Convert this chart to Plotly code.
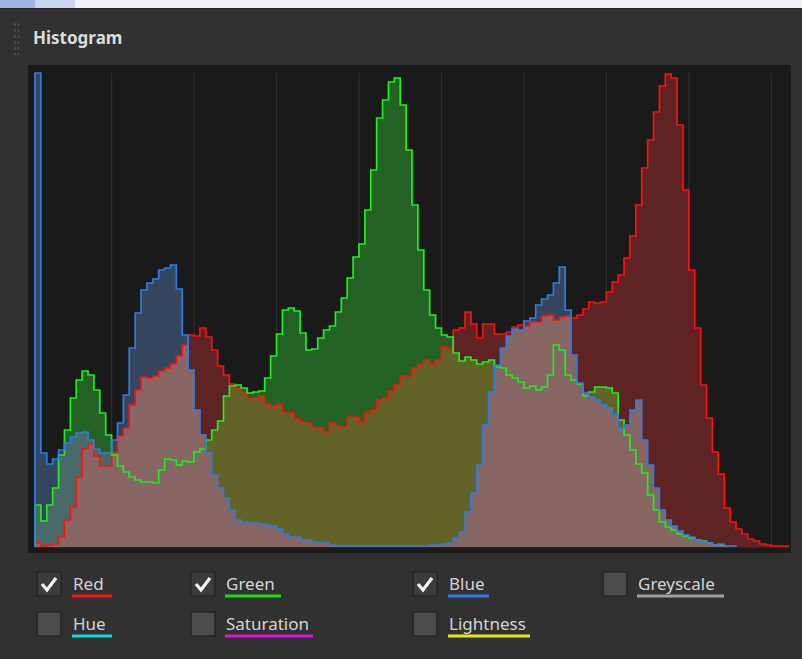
import numpy as np
import plotly.graph_objects as go

# ---- data: histogram counts per 2-level bin (128 bins, levels 0..255) ----
bins = list(range(128))

red = [4, 1, 2, 3, 10, 27, 40, 70, 98, 103, 91, 81, 81, 95, 111, 119, 142, 157, 170, 169,
       171, 176, 179, 183, 191, 202, 212, 211, 219, 210, 197, 181, 172, 163, 159, 155, 148, 149, 151, 143,
       141, 143, 135, 134, 128, 125, 124, 119, 119, 115, 124, 121, 120, 130, 130, 125, 134, 137, 147, 149,
       156, 162, 171, 170, 179, 183, 187, 183, 187, 200, 198, 217, 219, 235, 223, 209, 223, 223, 213, 213,
       215, 220, 222, 221, 225, 225, 231, 232, 227, 230, 231, 229, 232, 238, 245, 244, 245, 255, 265, 272,
       289, 311, 342, 379, 407, 435, 461, 473, 469, 422, 357, 277, 219, 162, 129, 95, 73, 39, 25, 18,
       13, 8, 6, 3, 2, 1, 1, 1]

green = [42, 26, 42, 59, 92, 117, 149, 167, 176, 172, 157, 134, 112, 92, 81, 75, 70, 67, 65, 65,
         64, 77, 88, 87, 82, 86, 85, 95, 98, 107, 117, 126, 151, 161, 162, 159, 154, 155, 156, 169,
         191, 213, 237, 239, 236, 214, 197, 198, 209, 217, 221, 235, 249, 269, 290, 303, 337, 377, 429, 447,
         465, 469, 442, 397, 342, 297, 257, 232, 219, 212, 210, 194, 186, 190, 187, 183, 185, 187, 180, 179,
         172, 169, 165, 159, 161, 157, 160, 172, 202, 197, 172, 167, 163, 151, 155, 160, 160, 159, 154, 127,
         112, 97, 83, 74, 52, 37, 25, 20, 17, 13, 11, 9, 7, 6, 4, 2, 2, 0, 0, 0,
         0, 0, 0, 0, 0, 0, 0, 0]

blue = [474, 94, 83, 88, 97, 104, 110, 114, 115, 107, 98, 94, 94, 107, 124, 152, 199, 234, 257, 264,
        268, 277, 279, 282, 258, 212, 177, 137, 112, 94, 72, 59, 49, 37, 27, 25, 24, 24, 23, 22,
        21, 18, 13, 10, 10, 7, 7, 5, 4, 4, 2, 1, 1, 1, 1, 1, 1, 1, 1, 1,
        1, 1, 1, 1, 1, 1, 1, 2, 2, 3, 4, 9, 15, 35, 54, 82, 122, 155, 182, 199,
        211, 218, 217, 226, 229, 242, 248, 252, 264, 280, 237, 192, 164, 154, 150, 147, 142, 139, 132, 119,
        122, 137, 147, 107, 82, 59, 37, 27, 21, 16, 12, 10, 7, 5, 4, 2, 3, 1, 1, 0,
        0, 0, 0, 0, 0, 0, 0, 0]

labels_row1 = ["Red", "Green", "Blue", "Greyscale"]
labels_row2 = ["Hue", "Saturation", "Lightness"]
checked_row1 = [True, True, True, False]

W, H = 802, 659
PL, PR, PT, PB = 28, 791, 65, 553        # plot area in pixels
BW = 754 / 128                            # pixel width of one bin
X0 = -0.5 - (35 - PL) / BW
X1 = X0 + (PR - PL) / BW


def px(x):
    return (x - PL) / (PR - PL)


def py(y):
    return (PB - y) / (PB - PT)


R = np.array(red, float)
G = np.array(green, float)
B = np.array(blue, float)
edges = np.arange(129) - 0.5

fig = go.Figure()


def fill(v, color):
    yy = np.append(v, v[-1])
    fig.add_trace(go.Scatter(x=edges, y=yy, mode="lines", fill="tozeroy",
                             fillcolor=color, line=dict(width=0, shape="hv", color=color),
                             hoverinfo="skip", showlegend=False))


fill(R, "#5f2323")
fill(G, "#236125")
fill(B, "#34465e")
fill(np.minimum(R, G), "#646327")
fill(np.minimum(G, B), "#4a6a69")
fill(np.minimum(R, B), "#876664")
fill(np.minimum(np.minimum(R, G), B), "#876664")


def outline(v, color):
    nz = np.nonzero(v)[0]
    last = nz[-1]
    xs = [-0.5] + list(edges[:last + 1]) + [edges[last + 1]]
    ys = [0] + list(v[:last + 1]) + [0 if last < 127 else v[-1]]
    fig.add_trace(go.Scatter(x=xs, y=ys, mode="lines",
                             line=dict(width=1.7, shape="hv", color=color),
                             hoverinfo="skip", showlegend=False))


outline(R, "#ff1010")
outline(G, "#1ef01e")
outline(B, "#2f7de2")

shapes = []
# vertical grid lines every 14 bins
for k in range(9):
    gx = 12.5 + 14 * k
    shapes.append(dict(type="line", xref="x", yref="y", x0=gx, x1=gx, y0=0, y1=474,
                       line=dict(color="#2e2e2e", width=1.3), layer="below"))
# baseline strip
shapes.append(dict(type="line", xref="paper", yref="y", x0=px(35), x1=px(790), y0=-0.6, y1=-0.6,
                   line=dict(color="#2a2a2a", width=1), layer="above"))
# window strip at the very top
shapes.append(dict(type="rect", xref="paper", yref="paper", x0=px(0), x1=px(W), y0=py(8), y1=py(0),
                   fillcolor="#eef2f8", line=dict(width=0), layer="below"))
shapes.append(dict(type="rect", xref="paper", yref="paper", x0=px(0), x1=px(35), y0=py(8), y1=py(0),
                   fillcolor="#9fb6e0", line=dict(width=0), layer="below"))
shapes.append(dict(type="rect", xref="paper", yref="paper", x0=px(35), x1=px(75), y0=py(8), y1=py(0),
                   fillcolor="#c9d6ee", line=dict(width=0), layer="below"))
shapes.append(dict(type="line", xref="paper", yref="paper", x0=px(0), x1=px(W), y0=py(8.5), y1=py(8.5),
                   line=dict(color="#262626", width=1)))
# grip dots
for gx in (15, 18.5):
    shapes.append(dict(type="line", xref="paper", yref="paper", x0=px(gx), x1=px(gx),
                       y0=py(23), y1=py(55), line=dict(color="#505050", width=1.5, dash="dot")))

annotations = [dict(text="<b>Histogram</b>", xref="paper", yref="paper", x=px(31), y=py(37),
                    xanchor="left", yanchor="middle", showarrow=False,
                    font=dict(family="Noto Sans", size=17, color="#dcdcdc"))]

col_box = [37, 191, 413, 603]
col_txt = [71, 224, 447, 636]
row_box = [(572, 596), (612, 636)]
row_txt = [583, 623]
ul_end1 = [112, 281, 489, 724]
ul_end2 = [112, 313, 530]
ul_col1 = ["#ff1010", "#12e012", "#2f7de2", "#a0a0a0"]
ul_col2 = ["#10d8dc", "#e010e0", "#e8e810"]


def checkbox(x0, ys, checked):
    y0, y1 = ys
    shapes.append(dict(type="rect", xref="paper", yref="paper", x0=px(x0), x1=px(x0 + 24),
                       y0=py(y1), y1=py(y0), fillcolor="#3c3c3c" if checked else "#4c4c4c",
                       line=dict(color="#242424", width=1.5)))
    if checked:
        pts = [(x0 + 5, y0 + 12), (x0 + 10, y0 + 18), (x0 + 19, y0 + 6)]
        path = "M {} {} L {} {} L {} {}".format(px(pts[0][0]), py(pts[0][1]), px(pts[1][0]),
                                                 py(pts[1][1]), px(pts[2][0]), py(pts[2][1]))
        shapes.append(dict(type="path", xref="paper", yref="paper", path=path,
                           line=dict(color="#f4f4f4", width=3.2)))


def label(text, x, y):
    annotations.append(dict(text=text, xref="paper", yref="paper", x=px(x), y=py(y),
                            xanchor="left", yanchor="middle", showarrow=False,
                            font=dict(family="Noto Sans", size=17, color="#d4d4d4")))


for i, lab in enumerate(labels_row1):
    checkbox(col_box[i], row_box[0], checked_row1[i])
    label(lab, col_txt[i], row_txt[0])
    shapes.append(dict(type="line", xref="paper", yref="paper", x0=px(col_txt[i] + 1), x1=px(ul_end1[i]),
                       y0=py(596), y1=py(596), line=dict(color=ul_col1[i], width=3)))
for i, lab in enumerate(labels_row2):
    checkbox(col_box[i], row_box[1], False)
    label(lab, col_txt[i], row_txt[1])
    shapes.append(dict(type="line", xref="paper", yref="paper", x0=px(col_txt[i] + 1), x1=px(ul_end2[i]),
                       y0=py(636), y1=py(636), line=dict(color=ul_col2[i], width=3)))

fig.update_layout(
    width=W, height=H,
    margin=dict(l=PL, r=W - PR, t=PT, b=H - PB, pad=0),
    paper_bgcolor="#313131", plot_bgcolor="#1a1a1a",
    xaxis=dict(range=[X0, X1], visible=False, fixedrange=True),
    yaxis=dict(range=[-6, 482], visible=False, fixedrange=True),
    shapes=shapes, annotations=annotations, showlegend=False,
)

fig.write_html("out.html", config={"displayModeBar": False},
               post_script="document.body.style.margin='0';document.body.style.overflow='hidden';")
